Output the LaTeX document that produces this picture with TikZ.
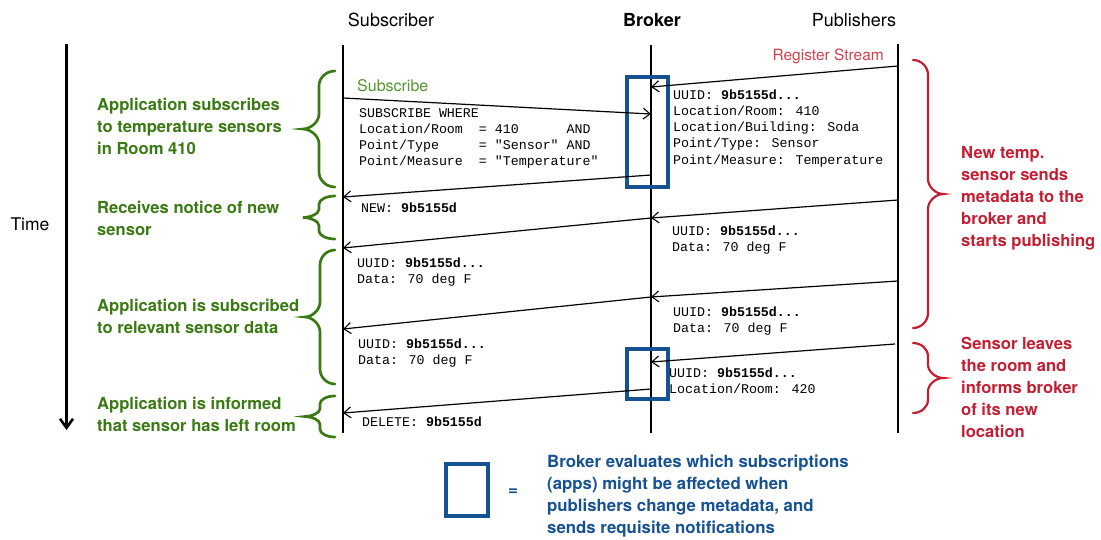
\documentclass[tikz,border=0pt]{standalone}
\usepackage{fontspec}
\usetikzlibrary{arrows.meta}
\setmainfont{TeX Gyre Heros}
\newfontfamily\hv{TeX Gyre Heros}
\newfontfamily\cour{Liberation Mono}

\definecolor{grn}{RGB}{58,122,18}
\definecolor{grnl}{RGB}{84,150,50}
\definecolor{rd}{RGB}{196,30,50}
\definecolor{rdl}{RGB}{210,66,78}
\definecolor{blu}{RGB}{22,82,146}

% curly brace: #1 x of the ends, #2 top y, #3 bottom y, #4 x of the tip, #5 style
\newcommand{\curly}[5]{%
  \pgfmathsetmacro\cmx{(#1+#4)/2}%
  \pgfmathsetmacro\cmy{(#2+#3)/2}%
  \pgfmathsetmacro\crad{min(15,(#3-#2)*0.19)}%
  \pgfmathsetmacro\cvA{#1+0.55*(\cmx-#1)}%
  \pgfmathsetmacro\cvB{\cmx+0.55*(#4-\cmx)}%
  \pgfmathsetmacro\cvTA{#2+\crad}%
  \pgfmathsetmacro\cvTB{#2+0.45*\crad}%
  \pgfmathsetmacro\cvMA{\cmy-\crad}%
  \pgfmathsetmacro\cvMB{\cmy-0.45*\crad}%
  \pgfmathsetmacro\cvMC{\cmy+0.45*\crad}%
  \pgfmathsetmacro\cvMD{\cmy+\crad}%
  \pgfmathsetmacro\cvBA{#3-0.45*\crad}%
  \pgfmathsetmacro\cvBB{#3-\crad}%
  \draw[#5] (#1,#2) .. controls (\cvA,#2) and (\cmx,\cvTB) .. (\cmx,\cvTA)
    -- (\cmx,\cvMA) .. controls (\cmx,\cvMB) and (\cvB,\cmy) .. (#4,\cmy)
    .. controls (\cvB,\cmy) and (\cmx,\cvMC) .. (\cmx,\cvMD)
    -- (\cmx,\cvBB) .. controls (\cmx,\cvBA) and (\cvA,#3) .. (#1,#3);%
}

% multi-line text nodes are placed by the baseline of their last line
\tikzset{
  header/.style={font=\hv\fontsize{18}{21}\selectfont, anchor=base, inner sep=0},
  lifeline/.style={line width=1.1pt},
  msg/.style={line width=1.2pt, -{Straight Barb[length=7pt,width=11pt,line width=1.1pt]}},
  mono/.style={font=\cour\fontsize{13.3}{16.3}\selectfont, anchor=base west, align=left, inner sep=0},
  greennote/.style={font=\hv\bfseries\fontsize{16.6}{22.4}\selectfont, text=grn, anchor=base west, align=left, inner sep=0},
  rednote/.style={font=\hv\bfseries\fontsize{16.6}{22.2}\selectfont, text=rd, anchor=base west, align=left, inner sep=0},
  bluenote/.style={font=\hv\bfseries\fontsize{16.8}{22}\selectfont, text=blu, anchor=base west, align=left, inner sep=0},
  gbrace/.style={draw=grn, line width=2.7pt, line cap=round},
  rbrace/.style={draw=rd, line width=2.2pt, line cap=round},
  evalbox/.style={draw=blu, line width=3.2pt},
}

\begin{document}
\begin{tikzpicture}[x=1pt, y=-1pt]
\useasboundingbox (0,0) rectangle (1101,539);

% column headers
\node[header] (hsub) at (391,26) {Subscriber};
\node[header] (hbro) at (652,26) {\bfseries Broker};
\node[header] (hpub) at (854,26) {Publishers};

% lifelines
\coordinate (subT) at (343,45);  \coordinate (subB) at (343,433);
\coordinate (broT) at (651,45);  \coordinate (broB) at (651,433);
\coordinate (pubT) at (898,44);  \coordinate (pubB) at (898,433);
\draw[lifeline] (subT) -- (subB);
\draw[lifeline] (broT) -- (broB);
\draw[lifeline] (pubT) -- (pubB);

% time axis
\node[font=\hv\fontsize{17.5}{20}\selectfont, anchor=base, inner sep=0] (time) at (30,230) {Time};
\coordinate (tT) at (66.5,44);
\coordinate (tB) at (66.5,430);
\draw[line width=2.8pt, -{Straight Barb[length=9pt,width=13pt,line width=2.6pt]}] (tT) -- (tB);

% broker evaluation boxes
\node[evalbox, minimum width=41pt, minimum height=110pt, inner sep=0] (eval1) at (647.5,132) {};
\node[evalbox, minimum width=41pt, minimum height=50pt, inner sep=0] (eval2) at (647.5,374) {};

% messages
\coordinate (m1a) at (898,66);  \coordinate (m1b) at (651,87);
\coordinate (m2a) at (343,98);  \coordinate (m2b) at (651,114);
\coordinate (m3a) at (651,175); \coordinate (m3b) at (343,197);
\coordinate (m4a) at (898,200); \coordinate (m4b) at (651,218);
\coordinate (m5a) at (651,218); \coordinate (m5b) at (343,248);
\coordinate (m6a) at (898,281); \coordinate (m6b) at (651,297);
\coordinate (m7a) at (651,297); \coordinate (m7b) at (343,329);
\coordinate (m8a) at (895,344); \coordinate (m8b) at (651,362);
\coordinate (m9a) at (651,389); \coordinate (m9b) at (343,413);
\draw[msg] (m1a) -- (m1b);
\draw[msg] (m2a) -- (m2b);
\draw[msg] (m3a) -- (m3b);
\draw[msg] (m4a) -- (m4b);
\draw[msg] (m5a) -- (m5b);
\draw[msg] (m6a) -- (m6b);
\draw[msg] (m7a) -- (m7b);
\draw[msg] (m8a) -- (m8b);
\draw[msg] (m9a) -- (m9b);

% message labels
\node[font=\hv\fontsize{15.5}{18}\selectfont, text=rdl, anchor=base east, inner sep=0] (lreg) at (884,60) {Register Stream};
\node[font=\hv\fontsize{16}{18}\selectfont, text=grnl, anchor=base west, inner sep=0] (lsub) at (357,91) {Subscribe};

\node[mono] (q1) at (359,165.9) {SUBSCRIBE WHERE\\
Location/Room~~=~410~~~~~~AND\\
Point/Type~~~~~=~"Sensor"~AND\\
Point/Measure~~=~"Temperature"};
\node[mono] (r1) at (673,164.2) {UUID: \textbf{9b5155d...}\\
Location/Room: 410\\
Location/Building: Soda\\
Point/Type: Sensor\\
Point/Measure: Temperature};
\node[mono] (n1) at (361,212) {NEW: \textbf{9b5155d}};
\node[mono] (d1) at (672,251.3) {UUID: \textbf{9b5155d...}\\Data: 70 deg F};
\node[mono] (d2) at (357,283.3) {UUID: \textbf{9b5155d...}\\Data: 70 deg F};
\node[mono] (d3) at (673,332.3) {UUID: \textbf{9b5155d...}\\Data: 70 deg F};
\node[mono] (d4) at (358,364.3) {UUID: \textbf{9b5155d...}\\Data: 70 deg F};
\node[mono] (r2) at (669,393.3) {UUID: \textbf{9b5155d...}\\Location/Room: 420};
\node[mono] (x1) at (362,426) {DELETE: \textbf{9b5155d}};

% subscriber-side notes
\curly{335}{71}{187}{303}{gbrace}
\curly{335}{196}{239}{303}{gbrace}
\curly{335}{250}{384}{305}{gbrace}
\curly{335}{396}{437}{305}{gbrace}
\node[greennote] (g1) at (97,154.8) {Application subscribes\\to temperature sensors\\in Room 410};
\node[greennote] (g2) at (97,235.4) {Receives notice of new\\sensor};
\node[greennote] (g3) at (97,333.4) {Application is subscribed\\to relevant sensor data};
\node[greennote] (g4) at (97,431.4) {Application is informed\\that sensor has left room};

% publisher-side notes
\curly{913}{60}{328}{943}{rbrace}
\curly{913}{343}{413}{943}{rbrace}
\node[rednote] (p1) at (961,246.8) {New temp.\\sensor sends\\metadata to the\\broker and\\starts publishing};
\node[rednote] (p2) at (961,437.8) {Sensor leaves\\the room and\\informs broker\\of its new\\location};

% legend
\node[evalbox, minimum width=42pt, minimum height=52pt, inner sep=0] (leg) at (467,490) {};
\node[font=\hv\bfseries\fontsize{17}{20}\selectfont, text=blu, inner sep=0] (legeq) at (513,492) {=};
\node[bluenote] (legtxt) at (547,533) {Broker evaluates which subscriptions\\(apps) might be affected when\\publishers change metadata, and\\sends requisite notifications};
\end{tikzpicture}
\end{document}
